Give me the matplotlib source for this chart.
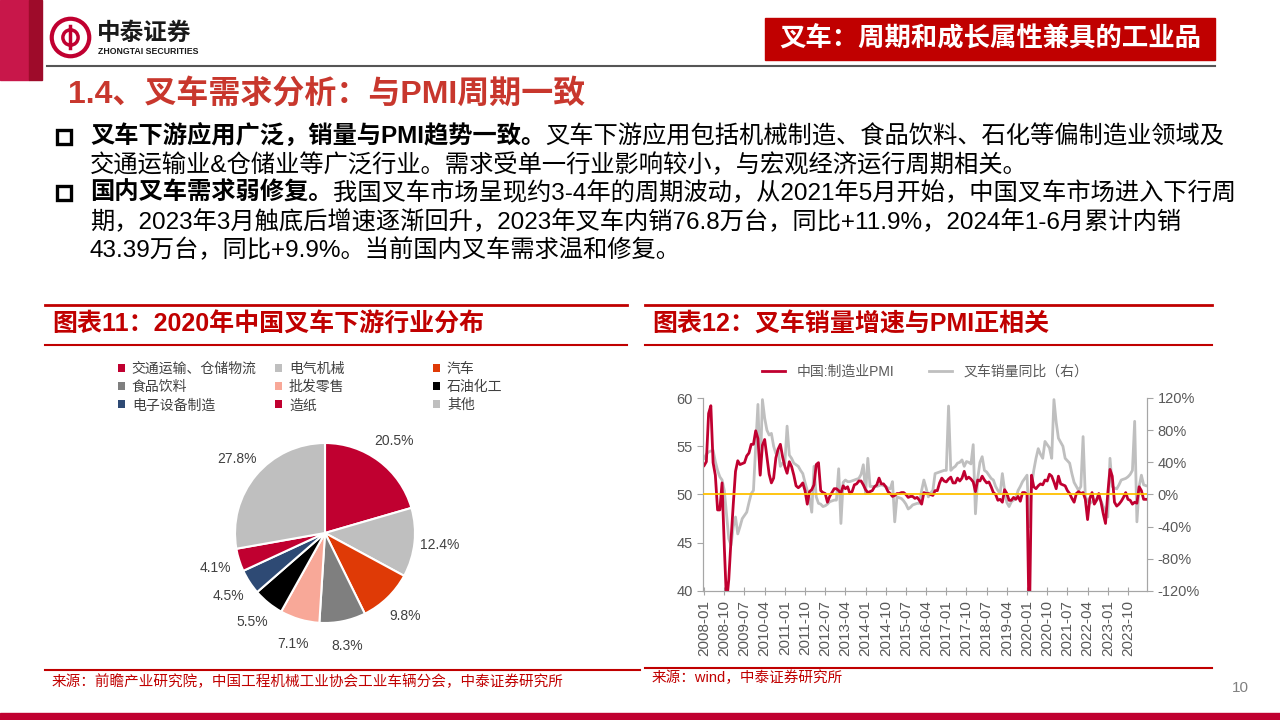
import numpy as np
import pandas as pd
import matplotlib
matplotlib.use("Agg")
import matplotlib.pyplot as plt
from matplotlib.patches import Rectangle, Patch
from matplotlib.lines import Line2D

plt.rcParams['font.family'] = ['Liberation Sans', 'Noto Sans CJK SC']

# ---- data ----
pie_labels = ['交通运输、仓储物流', '电气机械', '汽车', '食品饮料', '批发零售',
              '石油化工', '电子设备制造', '造纸', '其他']
pie_values = [20.5, 12.4, 9.8, 8.3, 7.1, 5.5, 4.5, 4.1, 27.8]
pie_colors = ['#C00030', '#BFBFBF', '#DF3A06', '#7F7F7F', '#F8A898',
              '#000000', '#2E4A74', '#C00030', '#BFBFBF']

months = pd.period_range('2008-01', '2024-06', freq='M')
pmi = [53.0, 53.4, 58.4, 59.2, 53.3, 52.0, 48.4, 48.4, 51.2, 44.6, 38.8, 41.2,
       45.3, 49.0, 52.4, 53.5, 53.1, 53.2, 53.3, 54.0, 54.3, 55.2, 55.2, 56.6,
       55.8, 52.0, 55.1, 55.7, 53.9, 52.1, 51.2, 51.7, 53.8, 54.7, 55.2, 53.9,
       52.9, 52.2, 53.4, 52.9, 52.0, 50.9, 50.7, 50.9, 51.2, 50.4, 49.0, 50.3,
       50.5, 51.0, 53.1, 53.3, 50.4, 50.2, 50.1, 49.2, 49.8, 50.2, 50.6, 50.6,
       50.4, 50.1, 50.9, 50.6, 50.8, 50.1, 50.3, 51.0, 51.1, 51.4, 51.4, 51.0,
       50.5, 50.2, 50.3, 50.4, 50.8, 51.0, 51.7, 51.1, 51.1, 50.8, 50.3, 50.1,
       49.8, 49.9, 50.1, 50.1, 50.2, 50.2, 50.0, 49.7, 49.8, 49.8, 49.6, 49.7,
       49.4, 49.0, 50.2, 50.1, 50.1, 50.0, 49.9, 50.4, 50.4, 51.2, 51.7, 51.4,
       51.3, 51.6, 51.8, 51.2, 51.2, 51.7, 51.4, 51.7, 52.4, 51.6, 51.8, 51.6,
       51.3, 50.3, 51.5, 51.4, 51.9, 51.5, 51.2, 51.3, 50.8, 50.2, 50.0, 49.4,
       49.5, 49.2, 50.5, 50.1, 49.4, 49.4, 49.7, 49.5, 49.8, 49.3, 50.2, 50.2,
       50.0, 35.7, 52.0, 50.8, 50.6, 50.9, 51.1, 51.0, 51.5, 51.4, 52.1, 51.9,
       51.3, 50.6, 51.9, 51.1, 51.0, 50.9, 50.4, 50.1, 49.6, 49.2, 50.1, 50.3,
       50.1, 50.2, 49.5, 47.4, 49.6, 50.2, 49.0, 49.4, 50.1, 49.2, 48.0, 47.0,
       50.1, 52.6, 51.9, 49.2, 48.8, 49.0, 49.3, 49.7, 50.2, 49.5, 49.4, 49.0,
       49.2, 49.1, 50.8, 50.4, 49.5, 49.5]
forklift_yoy = [45, 50, 53, 54, 55, 41, 30, 22, 18, 5, -25, -55,
                -63, -40, -28, -49, -40, -30, -26, -22, -10, 1, 5, 60,
                112, 26, 118, 95, 80, 74, 76, 60, 51, 55, 35, 39,
                39, 85, 49, 45, 39, 37, 35, 30, 26, 15, 5, -5,
                -22, 35, -3, -11, -12, -15, -14, -12, -9, -8, -7, -7,
                32, -36, 15, 18, 16, 16, 17, 18, 19, 20, 25, 37,
                1, 45, 10, 10, 10, 10, 11, 12, 11, 10, 8, 7,
                16, -34, -3, -4, -5, -8, -12, -18, -16, -13, -12, -11,
                -11, 5, 18, 8, -3, 2, 5, 26, 27, 28, 29, 30,
                30, 110, 30, 33, 35, 39, 40, 43, 35, 41, 40, 38,
                62, -24, 20, 40, 47, 30, 28, 24, 20, 18, 10, 5,
                1, 26, 5, -10, -15, -9, -7, -5, 5, 10, 16, 20,
                24, -40, 10, 30, 45, 57, 50, 45, 66, 62, 58, 45,
                118, 90, 70, 65, 60, 45, 42, 39, 26, 15, 10, 5,
                10, 72, -3, -8, -11, -9, -7, -6, -5, -8, -15, -20,
                -28, 45, 10, 8, 7, 12, 18, 19, 20, 22, 25, 30,
                91, -34, 10, 24, 12, 11]

RED = '#C00030'
W, H = 1280, 720
fig = plt.figure(figsize=(12.8, 7.2), dpi=100)


def fx(x):
    return x / W


def fy(y):
    return 1 - y / H


def hline(x0, x1, y, color, lw):
    fig.add_artist(Line2D([fx(x0), fx(x1)], [fy(y), fy(y)], color=color, lw=lw,
                          transform=fig.transFigure))


# ---- header ----
fig.add_artist(Rectangle((0, fy(80)), fx(29), 80 / H, color='#C8174A',
                         transform=fig.transFigure))
fig.add_artist(Rectangle((fx(29), fy(80)), fx(13), 80 / H, color='#9E0B2A',
                         transform=fig.transFigure))
fig.add_artist(Line2D([fx(70)], [fy(37)], marker='o', markersize=27, mfc='none',
                      mec=RED, mew=3, transform=fig.transFigure))
fig.add_artist(Line2D([fx(70)], [fy(37)], marker='o', markersize=11, mfc='none',
                      mec=RED, mew=2.5, transform=fig.transFigure))
fig.add_artist(Line2D([fx(70), fx(70)], [fy(26), fy(48)], color=RED, lw=2.5,
                      transform=fig.transFigure))
fig.text(fx(97), fy(33), '中泰证券', fontsize=17, fontweight='bold', color='#1a1a1a',
         va='center', ha='left')
fig.text(fx(98), fy(51), 'ZHONGTAI SECURITIES', fontsize=6.3, fontweight='bold',
         color='#1a1a1a', va='center', ha='left')

fig.add_artist(Rectangle((fx(765), fy(60)), fx(450), 42 / H, color='#C00000',
                         transform=fig.transFigure))
fig.text(fx(990), fy(39), '叉车：周期和成长属性兼具的工业品', fontsize=19,
         fontweight='bold', color='white', va='center', ha='center')
hline(47, 1215, 66, '#555555', 1.5)

fig.text(fx(68), fy(94), '1.4、叉车需求分析：与PMI周期一致', fontsize=23,
         fontweight='bold', color='#C8372D', va='center', ha='left')

# ---- body text ----
renderer = fig.canvas.get_renderer()
body = [
    (137, True, '叉车下游应用广泛，销量与PMI趋势一致。', '叉车下游应用包括机械制造、食品饮料、石化等偏制造业领域及'),
    (165, False, '', '交通运输业&仓储业等广泛行业。需求受单一行业影响较小，与宏观经济运行周期相关。'),
    (193, True, '国内叉车需求弱修复。', '我国叉车市场呈现约3-4年的周期波动，从2021年5月开始，中国叉车市场进入下行周'),
    (222, False, '', '期，2023年3月触底后增速逐渐回升，2023年叉车内销76.8万台，同比+11.9%，2024年1-6月累计内销'),
    (250, False, '', '43.39万台，同比+9.9%。当前国内叉车需求温和修复。'),
]
for y, bullet, bold, normal in body:
    x = fx(90)
    if bullet:
        fig.add_artist(Line2D([fx(64)], [fy(y)], marker='s', markersize=10.5,
                              mfc='none', mec='black', mew=2.4,
                              transform=fig.transFigure))
        t = fig.text(x, fy(y), bold, fontsize=17.5, fontweight='bold', color='black',
                     va='center', ha='left')
        x = t.get_window_extent(renderer).x1 / W
    fig.text(x, fy(y), normal, fontsize=17.5, color='black', va='center', ha='left')

# ---- panel titles ----
for x0, x1, title in [(45, 627, '图表11：2020年中国叉车下游行业分布'),
                      (645, 1212, '图表12：叉车销量增速与PMI正相关')]:
    hline(x0, x1, 305, '#C00000', 2)
    hline(x0, x1, 345, '#C00000', 1.5)
    fig.text(fx(x0 + 7), fy(325), title, fontsize=18, fontweight='bold',
             color='#C00000', va='center', ha='left')

# ---- pie ----
ax_pie = fig.add_axes([fx(235), fy(623), 180 / W, 180 / H])
wedges, texts, autotexts = ax_pie.pie(
    pie_values, colors=pie_colors, startangle=90, counterclock=False,
    wedgeprops=dict(edgecolor='white', linewidth=1.5),
    autopct='%.1f%%', pctdistance=1.28,
    textprops=dict(fontsize=10, color='#404040'))
ax_pie.set_xlim(-1, 1)
ax_pie.set_ylim(-1, 1)

col_x = [122, 279, 437]
for c in range(3):
    idx = [c, c + 3, c + 6]
    handles = [Patch(facecolor=pie_colors[i]) for i in idx]
    fig.legend(handles, [pie_labels[i] for i in idx], loc='upper left',
               bbox_to_anchor=(fx(col_x[c] - 4), fy(362)), frameon=False,
               handlelength=0.5, handleheight=0.5, handletextpad=0.5,
               labelspacing=0.3, fontsize=10, borderaxespad=0, borderpad=0,
               labelcolor='#404040')

# ---- PMI vs forklift ----
ax = fig.add_axes([fx(703), fy(591), (1147 - 703) / W, (591 - 398) / H])
ax2 = ax.twinx()
xs = np.arange(len(months))
l1, = ax.plot(xs, pmi, color=RED, lw=2, label='中国:制造业PMI')
l2, = ax2.plot(xs, forklift_yoy, color='#BFBFBF', lw=2, label='叉车销量同比（右）')
ax.axhline(50, color='#FFC000', lw=1.3, zorder=5)
ax.set_zorder(ax2.get_zorder() + 1)
ax.patch.set_visible(False)

ax.set_xlim(-0.5, len(months) - 0.5)
ax.set_ylim(40, 60)
ax.set_yticks([40, 45, 50, 55, 60])
ax2.set_ylim(-120, 120)
ax2.set_yticks(np.arange(-120, 121, 40))
ax2.set_yticklabels([f'{v}%' for v in range(-120, 121, 40)])
tick_idx = xs[::9]
ax.set_xticks(tick_idx)
ax.set_xticklabels([str(months[i]) for i in tick_idx], rotation=90)

for a in (ax, ax2):
    for s in a.spines.values():
        s.set_color('#A6A6A6')
    a.spines['top'].set_visible(False)
    a.tick_params(colors='#A6A6A6', labelcolor='#595959', labelsize=10.5, length=4)
ax.tick_params(axis='x', labelsize=11, direction='inout', length=6)

ax.legend([l1, l2], [l1.get_label(), l2.get_label()], loc='center',
          bbox_to_anchor=(0.5, 1.135), ncol=2, frameon=False, fontsize=10,
          handlelength=1.7, columnspacing=2.5, labelcolor='#595959')

# ---- sources & footer ----
hline(45, 640, 670, '#C00000', 1.5)
hline(645, 1212, 668, '#C00000', 1.5)
fig.text(fx(52), fy(682), '来源：前瞻产业研究院，中国工程机械工业协会工业车辆分会，中泰证券研究所',
         fontsize=10.5, color='#C00000', va='center', ha='left')
fig.text(fx(652), fy(678), '来源：wind，中泰证券研究所', fontsize=10.5,
         color='#C00000', va='center', ha='left')
fig.text(fx(1240), fy(688), '10', fontsize=11, color='#808080', va='center', ha='center')
fig.add_artist(Rectangle((0, 0), 1, 7 / H, color=RED, transform=fig.transFigure))

fig.savefig('out.png', dpi=100)
